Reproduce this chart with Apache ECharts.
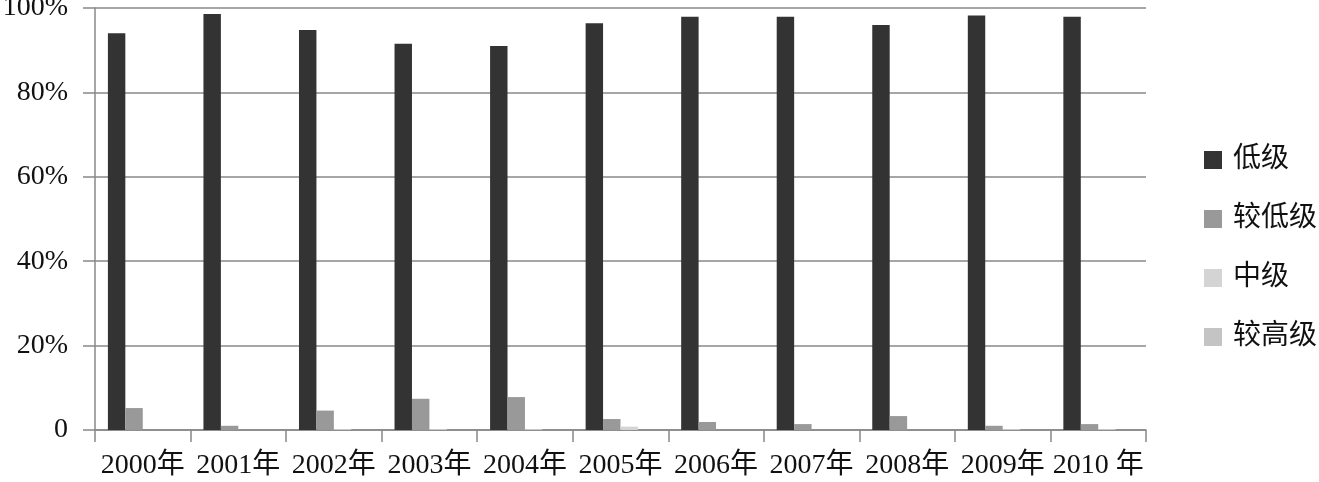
<!DOCTYPE html>
<html>
<head>
<meta charset="utf-8">
<script src="https://cdn.jsdelivr.net/npm/echarts@6/dist/echarts.min.js"></script>
<style>html,body{margin:0;padding:0;background:#fff;}#c{width:1319px;height:482px;}</style>
</head>
<body>
<div id="c"></div>
<script>
const categories = ['2000年','2001年','2002年','2003年','2004年','2005年','2006年','2007年','2008年','2009年','2010 年'];
const seriesNames = ['低级','较低级','中级','较高级'];
const low      = [94.0, 98.6, 94.8, 91.5, 91.0, 96.4, 97.9, 97.9, 96.0, 98.2, 97.9];
const lowerMid = [5.2, 1.0, 4.6, 7.4, 7.8, 2.6, 1.9, 1.4, 3.3, 1.0, 1.4];
const mid      = [0, 0, 0.2, 0.2, 0.2, 0.8, 0, 0, 0, 0.2, 0.2];
const upperMid = [0, 0, 0, 0, 0, 0, 0, 0, 0, 0, 0];
const yTicks = [0, 20, 40, 60, 80, 100];

const colors = ['#333333', '#999999', '#d4d4d4', '#c4c4c4'];
const fontFam = '"Liberation Serif", "Noto Sans CJK SC", serif';
const values = [low, lowerMid, mid, upperMid];

const chart = echarts.init(document.getElementById('c'));
chart.setOption({
  backgroundColor: '#ffffff',
  animation: false,
  grid: { left: 95, right: 173, top: 8, bottom: 52, containLabel: false, outerBoundsMode: 'none' },
  legend: {
    orient: 'vertical',
    left: 1199,
    top: 140,
    icon: 'rect',
    itemWidth: 18,
    itemHeight: 18,
    itemGap: 29,
    data: seriesNames,
    textStyle: { fontFamily: fontFam, fontSize: 28, color: '#111', lineHeight: 30, padding: [0, 0, 0, 6] }
  },
  xAxis: {
    type: 'category',
    data: categories,
    boundaryGap: true,
    axisLine: { show: true, lineStyle: { color: '#888', width: 1.5 } },
    axisTick: { show: true, length: 12, alignWithLabel: false, lineStyle: { color: '#888', width: 1.5 } },
    axisLabel: { fontFamily: fontFam, fontSize: 28, color: '#111', margin: 22, interval: 0 }
  },
  yAxis: {
    type: 'value',
    min: 0,
    max: 100,
    interval: 20,
    axisLine: { show: true, lineStyle: { color: '#888', width: 1.5 } },
    axisTick: { show: true, length: 12, lineStyle: { color: '#888', width: 1.5 } },
    splitLine: { show: true, lineStyle: { color: '#888', width: 1.5 } },
    axisLabel: {
      fontFamily: fontFam, fontSize: 28, color: '#111', margin: 27, padding: [6, 0, 0, 0],
      formatter: v => (yTicks.includes(v) ? (v === 0 ? '0' : v + '%') : '')
    }
  },
  series: seriesNames.map((n, i) => ({
    name: n,
    type: 'bar',
    data: values[i],
    barGap: '0%',
    barCategoryGap: '27%',
    itemStyle: { color: colors[i] }
  }))
});
</script>
</body>
</html>
